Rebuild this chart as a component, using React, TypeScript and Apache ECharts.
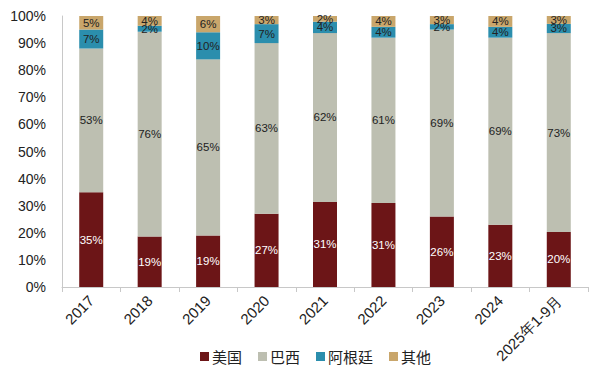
import React, { useEffect, useRef } from "react";
import * as echarts from "echarts";

const categories = ["2017", "2018", "2019", "2020", "2021", "2022", "2023", "2024", "2025年1-9月"];
const usa = [35, 18.6, 19, 27, 31.4, 31, 26, 23, 20.3];
const brazil = [53, 75.6, 65, 63, 62.3, 61, 69, 69, 73.4];
const argentina = [7, 2.2, 10, 7, 4.2, 4, 2, 4, 3.4];
const other = [5, 3.6, 6, 3, 2.1, 4, 3, 4, 2.9];
const yTicks = [0, 10, 20, 30, 40, 50, 60, 70, 80, 90, 100];

const FONT = "Liberation Sans, Arial, sans-serif";

export default function App() {
  const ref = useRef<HTMLDivElement>(null);
  useEffect(() => {
    if (!ref.current) return;
    const chart = echarts.init(ref.current, undefined, { renderer: "svg" });
    const mk = (name: string, data: number[], color: string, labelColor: string) => ({
      name,
      type: "bar",
      stack: "total",
      data,
      barWidth: 24,
      itemStyle: { color },
      label: {
        show: true,
        position: "inside",
        formatter: (p: any) => `${Math.round(p.value)}%`,
        color: labelColor,
        fontSize: 11.5,
        fontFamily: FONT,
      },
    });
    chart.setOption({
      animation: false,
      textStyle: { fontFamily: FONT },
      grid: { left: 62, right: 12, top: 16, bottom: 96 },
      legend: {
        bottom: 14,
        left: 195,
        itemWidth: 9,
        itemHeight: 9,
        itemGap: 16,
        icon: "rect",
        textStyle: { fontSize: 15, color: "#222", fontFamily: "Noto Sans CJK SC", padding: [0, 0, 0, -2] },
        data: ["美国", "巴西", "阿根廷", "其他"],
      },
      xAxis: {
        type: "category",
        data: categories,
        axisLine: { lineStyle: { color: "#c8c8c8" } },
        axisTick: { show: true, length: 5, lineStyle: { color: "#c8c8c8" } },
        axisLabel: { rotate: 45, fontSize: 15, color: "#222", margin: 11, fontFamily: FONT },
      },
      yAxis: {
        type: "value",
        min: yTicks[0],
        max: yTicks[yTicks.length - 1],
        interval: 10,
        splitLine: { show: false },
        axisLine: { show: true, lineStyle: { color: "#c8c8c8" } },
        axisTick: { show: false },
        axisLabel: { formatter: "{value}%", fontSize: 14, color: "#222", margin: 16, fontFamily: FONT },
      },
      series: [
        mk("美国", usa, "#6c1517", "#ffffff"),
        mk("巴西", brazil, "#bdbfb1", "#222222"),
        mk("阿根廷", argentina, "#2b8ead", "#222222"),
        mk("其他", other, "#c9a66b", "#222222"),
      ],
    });
    return () => chart.dispose();
  }, []);
  return <div ref={ref} style={{ width: 600, height: 383, margin: -8 }} />;
}
